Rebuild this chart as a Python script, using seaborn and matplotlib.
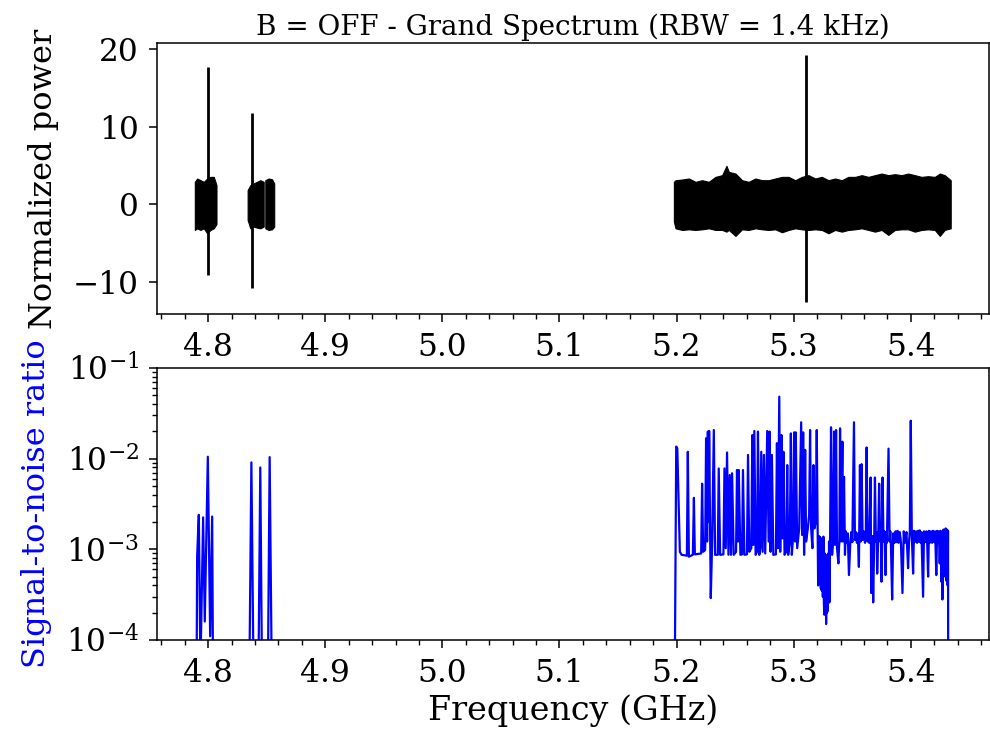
import numpy as np
import pandas as pd
import matplotlib
matplotlib.use("Agg")
import matplotlib.pyplot as plt
import seaborn as sns
from matplotlib.ticker import MultipleLocator, LogLocator

# ---------------- data ----------------
# Top panel: noise bands (envelope of the normalized power trace)
bandA_freq = [4.7886, 4.7906, 4.7934, 4.7963, 4.7991, 4.8020, 4.8048, 4.8071]
bandA_upper = [2.87, 3.30, 3.08, 2.87, 3.30, 3.51, 3.51, 2.44]
bandA_lower = [-3.34, -3.13, -3.34, -3.13, -3.77, -3.34, -3.13, -2.57]

bandB1_freq = [4.8337, 4.8360, 4.8388, 4.8417, 4.8445, 4.8474]
bandB1_upper = [1.80, 2.44, 2.66, 2.87, 3.08, 2.87]
bandB1_lower = [-2.06, -3.13, -2.91, -3.04, -3.13, -2.91]

bandB2_freq = [4.8488, 4.8516, 4.8545, 4.8564]
bandB2_upper = [3.08, 3.30, 3.20, 2.66]
bandB2_lower = [-3.13, -3.34, -3.26, -2.91]

bandC_freq = [5.1977, 5.1991, 5.2048, 5.2105, 5.2162, 5.2218, 5.2275, 5.2332,
              5.2389, 5.2426, 5.2446, 5.2503, 5.2559, 5.2616, 5.2673, 5.2730,
              5.2786, 5.2843, 5.2900, 5.2957, 5.3013, 5.3070, 5.3127, 5.3184,
              5.3240, 5.3297, 5.3354, 5.3411, 5.3467, 5.3524, 5.3581, 5.3638,
              5.3694, 5.3751, 5.3808, 5.3865, 5.3921, 5.3978, 5.4035, 5.4092,
              5.4148, 5.4205, 5.4248, 5.4290, 5.4341]
bandC_upper = [2.87, 3.08, 3.17, 3.30, 2.87, 3.08, 2.87, 3.51, 3.73, 4.93,
               4.16, 3.94, 3.08, 2.87, 3.30, 3.08, 3.08, 3.30, 3.51, 3.51,
               3.08, 3.51, 3.73, 3.30, 3.51, 3.08, 3.30, 3.08, 3.51, 3.51,
               3.73, 3.51, 3.73, 3.94, 3.73, 3.86, 3.73, 3.94, 3.73, 3.51,
               3.60, 3.51, 3.94, 3.73, 3.08]
bandC_lower = [-2.27, -3.13, -3.34, -3.26, -3.34, -3.26, -3.13, -3.34, -3.34,
               -3.56, -3.34, -4.11, -3.26, -3.34, -3.13, -3.26, -3.34, -3.26,
               -3.64, -3.34, -3.13, -3.26, -3.34, -3.26, -3.34, -3.77, -3.34,
               -3.56, -3.34, -3.26, -3.13, -3.34, -3.56, -3.34, -3.98, -3.34,
               -3.26, -3.26, -3.56, -3.34, -3.26, -3.34, -4.11, -3.34, -3.13]

# Top panel: strong single-bin spikes
spike_freq = [4.8000, 4.8374, 5.3103]
spike_top = [17.7, 11.8, 19.2]
spike_bottom = [-9.2, -10.8, -12.6]

# Bottom panel: signal-to-noise ratio trace
snr_freq = [
    4.7895, 4.7906, 4.7920, 4.7934, 4.7957, 4.7971, 4.7997, 4.8017, 4.8034, 4.8048,
    4.8340, 4.8369, 4.8400, 4.8418, 4.8445, 4.8470, 4.8500, 4.8525, 4.8555,
    5.1977, 5.1997, 5.2006, 5.2028, 5.2043, 5.2088, 5.2096, 5.2105, 5.2139, 5.2148,
    5.2156, 5.2210, 5.2218, 5.2227, 5.2244, 5.2252, 5.2261, 5.2267, 5.2275, 5.2278,
    5.2292, 5.2304, 5.2318, 5.2329, 5.2352, 5.2360, 5.2372, 5.2400, 5.2409, 5.2420,
    5.2431, 5.2443, 5.2454, 5.2465, 5.2474, 5.2488, 5.2508, 5.2516, 5.2525, 5.2531,
    5.2545, 5.2559, 5.2567, 5.2579, 5.2601, 5.2610, 5.2621, 5.2638, 5.2647, 5.2655,
    5.2664, 5.2675, 5.2687, 5.2695, 5.2706, 5.2715, 5.2723, 5.2735, 5.2746, 5.2757,
    5.2774, 5.2786, 5.2794, 5.2803, 5.2814, 5.2826, 5.2848, 5.2857, 5.2865, 5.2877,
    5.2885, 5.2896, 5.2905, 5.2913, 5.2922, 5.2936, 5.2945, 5.2953, 5.2967, 5.2976,
    5.2984, 5.2996, 5.3004, 5.3013, 5.3018, 5.3030, 5.3047, 5.3064, 5.3072, 5.3081,
    5.3089, 5.3098, 5.3106, 5.3121, 5.3132, 5.3140, 5.3149, 5.3160, 5.3169, 5.3177,
    5.3189, 5.3197, 5.3206, 5.3209, 5.3213, 5.3216, 5.3220, 5.3224, 5.3228, 5.3232,
    5.3236, 5.3240, 5.3245, 5.3249, 5.3254, 5.3258, 5.3262, 5.3266, 5.3271, 5.3274,
    5.3277, 5.3281, 5.3285, 5.3288, 5.3291, 5.3295, 5.3299, 5.3302, 5.3305, 5.3308,
    5.3311, 5.3319, 5.3328, 5.3336, 5.3345, 5.3353, 5.3362, 5.3370, 5.3382, 5.3390,
    5.3396, 5.3404, 5.3416, 5.3421, 5.3430, 5.3438, 5.3445, 5.3452, 5.3462, 5.3472,
    5.3484, 5.3492, 5.3501, 5.3515, 5.3523, 5.3531, 5.3540, 5.3548, 5.3557, 5.3566,
    5.3572, 5.3580, 5.3589, 5.3598, 5.3609, 5.3616, 5.3623, 5.3631, 5.3638, 5.3645,
    5.3657, 5.3662, 5.3671, 5.3679, 5.3688, 5.3694, 5.3702, 5.3708, 5.3713, 5.3722,
    5.3730, 5.3739, 5.3745, 5.3750, 5.3759, 5.3767, 5.3775, 5.3784, 5.3790, 5.3796,
    5.3810, 5.3819, 5.3825, 5.3830, 5.3841, 5.3850, 5.3860, 5.3870, 5.3878, 5.3887,
    5.3896, 5.3906, 5.3916, 5.3929, 5.3940, 5.3950, 5.3963, 5.3977, 5.3985, 5.3992,
    5.4000, 5.4009, 5.4020, 5.4027, 5.4034, 5.4045, 5.4054, 5.4062, 5.4070, 5.4077,
    5.4085, 5.4091, 5.4105, 5.4113, 5.4123, 5.4133, 5.4140, 5.4148, 5.4155, 5.4162,
    5.4172, 5.4182, 5.4190, 5.4199, 5.4208, 5.4218, 5.4225, 5.4233, 5.4240, 5.4247,
    5.4255, 5.4262, 5.4266, 5.4270, 5.4279, 5.4284, 5.4290, 5.4294, 5.4298, 5.4304,
    5.4310, 5.4315, 5.4318, 5.4321]
snr_value = [
    1e-6, 8.5e-4, 2.4e-3, 5e-5, 2.25e-3, 1.6e-4, 1.05e-2, 1.1e-4, 2.3e-3, 1e-6,
    1e-6, 9.1e-3, 1e-6, 1e-6, 8.0e-3, 1e-6, 1e-6, 1.04e-2, 1e-6,
    1e-6, 0.0136, 0.0130, 0.00094, 0.00087, 0.00085, 0.0119, 0.00083, 0.00087, 0.0037,
    0.00088, 0.00090, 0.0053, 0.00094, 0.00098, 0.0168, 0.00122, 0.0199, 0.0020, 0.0202,
    0.00029, 0.00122, 0.0207, 0.00087, 0.00087, 0.0078, 0.00087, 0.00088, 0.0078, 0.00103,
    0.0117, 0.00087, 0.0066, 0.00087, 0.0069, 0.00087, 0.00094, 0.0075, 0.00122, 0.0075,
    0.00087, 0.00088, 0.0075, 0.00087, 0.00088, 0.0110, 0.00094, 0.00103, 0.0182, 0.00112,
    0.0202, 0.00087, 0.00094, 0.0199, 0.00087, 0.00103, 0.0119, 0.00094, 0.0110, 0.00090,
    0.0202, 0.00122, 0.0199, 0.00094, 0.0110, 0.00087, 0.00088, 0.0148, 0.00103, 0.0483,
    0.00094, 0.0182, 0.00132, 0.0119, 0.00087, 0.00094, 0.0085, 0.00087, 0.00122, 0.0190,
    0.00087, 0.00144, 0.0195, 0.00122, 0.0195, 0.00103, 0.0017, 0.0252, 0.00144, 0.0195,
    0.00087, 0.0125, 0.00122, 0.0017, 0.00239, 0.0207, 0.0017, 0.00103, 0.0085, 0.0017,
    0.0020, 0.0207, 0.00122, 0.00040, 0.00140, 0.00042, 0.00138, 0.00045, 0.00135, 0.00037,
    0.00130, 0.00035, 0.00122, 0.00030, 0.00138, 0.00025, 0.00019, 0.00090, 0.00030, 0.00087,
    0.00015, 0.00062, 0.00020, 0.00062, 0.00021, 0.00090, 0.00026, 0.00122, 0.00026, 0.00100,
    0.00138, 0.0222, 0.00087, 0.00122, 0.0199, 0.00112, 0.0207, 0.00103, 0.00070, 0.00127,
    0.0216, 0.00122, 0.0154, 0.00122, 0.0063, 0.00087, 0.00158, 0.00118, 0.00150, 0.00052,
    0.00122, 0.00155, 0.00120, 0.0252, 0.00127, 0.00155, 0.00118, 0.00150, 0.00064, 0.0085,
    0.00122, 0.0087, 0.00127, 0.00158, 0.00118, 0.00152, 0.0133, 0.00122, 0.00155, 0.00118,
    0.0062, 0.00033, 0.00140, 0.00026, 0.00138, 0.0062, 0.00122, 0.00155, 0.00054, 0.00132,
    0.0053, 0.00122, 0.00155, 0.00044, 0.0062, 0.00122, 0.00158, 0.00052, 0.00155, 0.00118,
    0.0129, 0.00122, 0.00158, 0.00118, 0.00028, 0.00150, 0.00118, 0.00158, 0.00120, 0.00160,
    0.00118, 0.00155, 0.00120, 0.00033, 0.00158, 0.00118, 0.00155, 0.00062, 0.00120, 0.00158,
    0.0262, 0.00138, 0.00054, 0.00160, 0.00120, 0.00158, 0.00118, 0.00160, 0.00122, 0.00162,
    0.00118, 0.00155, 0.00030, 0.00158, 0.00120, 0.00158, 0.00118, 0.00050, 0.00160, 0.00118,
    0.00158, 0.00118, 0.00160, 0.00120, 0.00158, 0.00052, 0.00160, 0.00118, 0.00158, 0.00070,
    0.00160, 0.00044, 0.00150, 0.00028, 0.00165, 0.00060, 0.00160, 0.00050, 0.00170, 0.00045,
    0.00165, 0.00040, 0.00160, 1e-6]

title_text = "B = OFF - Grand Spectrum (RBW = 1.4 kHz)"
xlabel_text = "Frequency (GHz)"
ylabel_top = "Normalized power"
ylabel_bottom = "Signal-to-noise ratio"

# ---------------- style ----------------
sns.set_style("ticks")
plt.rcParams["font.family"] = ["DejaVu Serif"]
plt.rcParams["mathtext.fontset"] = "dejavuserif"
plt.rcParams["axes.edgecolor"] = "black"
plt.rcParams["axes.linewidth"] = 1.1
plt.rcParams["text.color"] = "black"
plt.rcParams["axes.labelcolor"] = "black"
plt.rcParams["xtick.color"] = "black"
plt.rcParams["ytick.color"] = "black"

W, H = 990, 731
fig = plt.figure(figsize=(W / 100, H / 100), dpi=100)
ax1 = fig.add_axes([157 / W, 1 - 314 / H, (989 - 157) / W, (314 - 43) / H])
ax2 = fig.add_axes([157 / W, 1 - 640 / H, (989 - 157) / W, (640 - 368) / H], sharex=ax1)

# ---------------- top panel ----------------
for fr, up, lo in [(bandA_freq, bandA_upper, bandA_lower),
                   (bandB1_freq, bandB1_upper, bandB1_lower),
                   (bandB2_freq, bandB2_upper, bandB2_lower),
                   (bandC_freq, bandC_upper, bandC_lower)]:
    ax1.fill_between(fr, lo, up, color="black", linewidth=0.8, edgecolor="black")
ax1.vlines(spike_freq, spike_bottom, spike_top, color="black", linewidth=2)
ax1.set_title(title_text, fontsize=20, pad=6)
ax1.set_ylabel(ylabel_top, fontsize=23, labelpad=10)

# ---------------- bottom panel ----------------
df = pd.DataFrame({"freq": snr_freq, "snr": snr_value})
ax2.set_yscale("log")
sns.lineplot(data=df, x="freq", y="snr", ax=ax2, color="blue", linewidth=1.6,
             estimator=None, sort=False)
ax2.set_ylim(1e-4, 1e-1)
ax2.set_ylabel(ylabel_bottom, fontsize=23, color="blue", labelpad=10)
ax2.set_xlabel(xlabel_text, fontsize=24)

ax1.set_xlim(4.7563, 5.4668)
for ax in (ax1, ax2):
    ax.xaxis.set_major_locator(MultipleLocator(0.1))
    ax.xaxis.set_minor_locator(MultipleLocator(0.02))
    ax.tick_params(axis="both", which="major", labelsize=22.5, length=6, width=1.1,
                   pad=7, color="black", labelcolor="black")
    ax.tick_params(axis="both", which="minor", length=3.5, width=1.0, color="black")
ax1.tick_params(labelbottom=True)
ax1.set_yticks([-10, 0, 10, 20])
ax2.yaxis.set_major_locator(LogLocator(base=10))
ax2.yaxis.set_minor_locator(LogLocator(base=10, subs=np.arange(2, 10) * 1.0))

fig.savefig("out.png", dpi=100)
